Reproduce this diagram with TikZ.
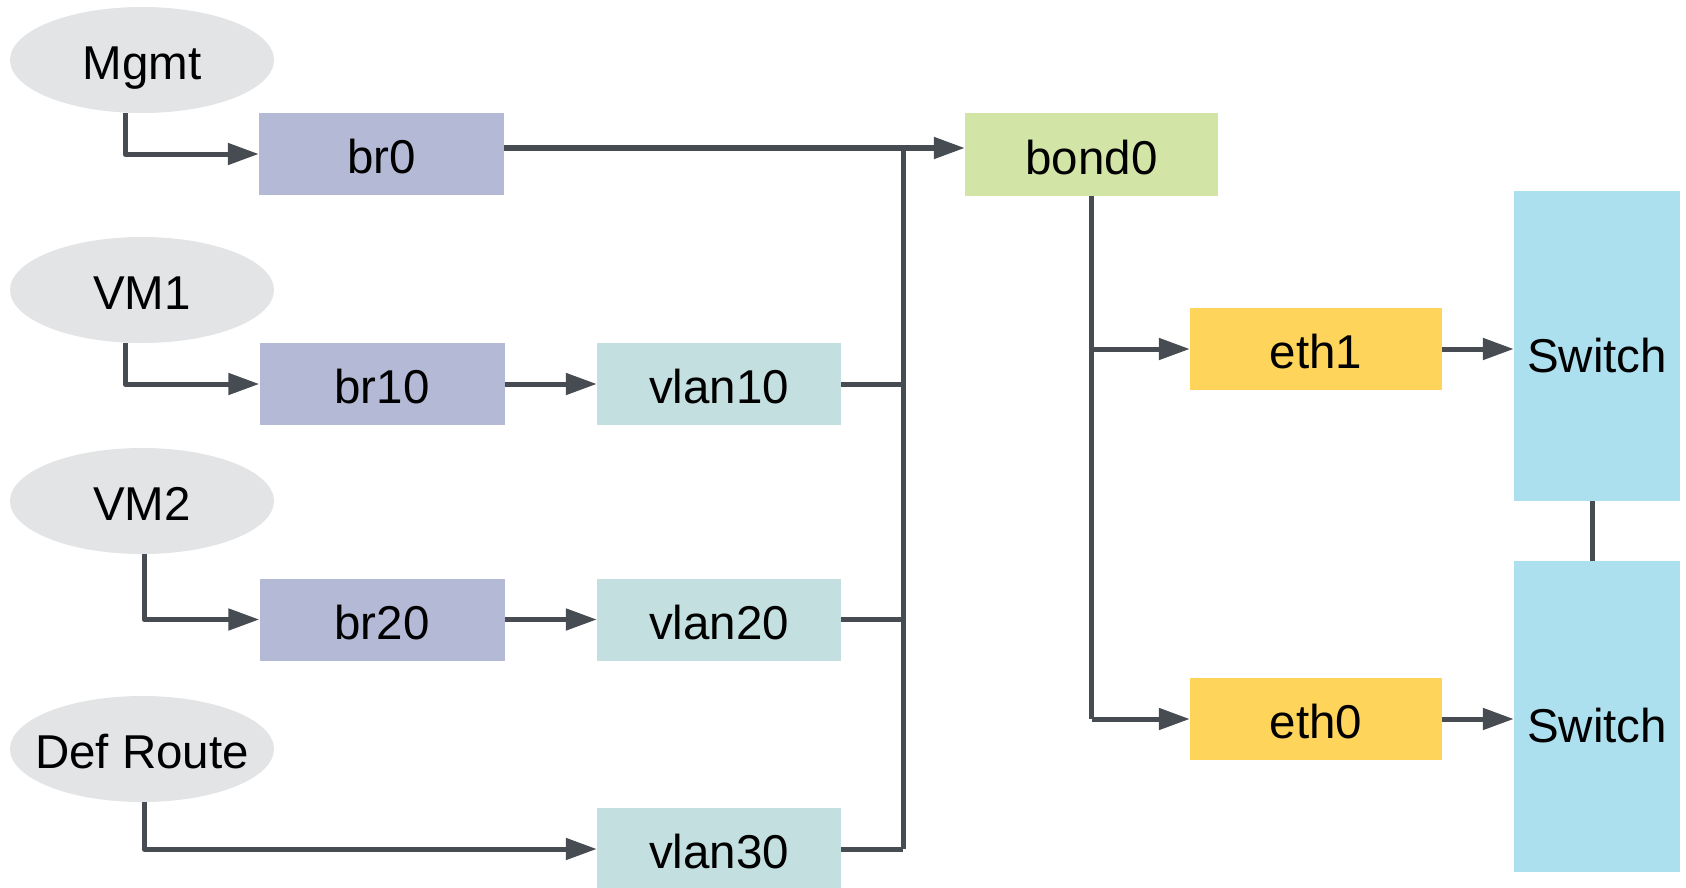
\documentclass[tikz,border=0pt]{standalone}
\usepackage{fontspec}
\setmainfont{Liberation Sans}
\usetikzlibrary{arrows.meta,shapes.geometric}
\definecolor{ellgray}{HTML}{E3E4E6}
\definecolor{brfill}{HTML}{B4BAD6}
\definecolor{vlanfill}{HTML}{C4DFE0}
\definecolor{bondfill}{HTML}{D2E4A6}
\definecolor{ethfill}{HTML}{FFD45A}
\definecolor{swfill}{HTML}{ADE0EE}
\definecolor{linecol}{HTML}{474C52}
\tikzset{
  lbl/.style={inner sep=0pt, text height=39pt, text depth=0pt, font=\fontsize{47.5pt}{54pt}\selectfont, text=black},
  oval/.style={ellipse, inner sep=0pt, fill=ellgray, minimum width=264pt, minimum height=106pt},
  brbox/.style={lbl, rectangle, fill=brfill, minimum width=245pt, minimum height=82pt},
  vlanbox/.style={lbl, rectangle, fill=vlanfill, minimum width=244pt, minimum height=82pt},
  bondbox/.style={lbl, rectangle, fill=bondfill, minimum width=253pt, minimum height=83pt},
  ethbox/.style={lbl, rectangle, fill=ethfill, minimum width=252pt, minimum height=82pt},
  swbox/.style={lbl, rectangle, fill=swfill, minimum width=166pt, minimum height=310pt, text height=52pt},
  wire/.style={draw=linecol, line width=5pt, line join=round},
  arr/.style={wire, -{Triangle[length=31pt,width=21pt]}}
}
\begin{document}
\begin{tikzpicture}[x=1pt,y=-1pt]
\useasboundingbox (0,0) rectangle (1686,888);
% ovals
\node[oval, label={[lbl]center:Mgmt}] (mgmt) at (142,60) {};
\node[oval, label={[lbl]center:VM1}] (vm1) at (142,290) {};
\node[oval, label={[lbl]center:VM2}] (vm2) at (142,501) {};
\node[oval, label={[lbl]center:Def Route}] (defr) at (142,749) {};
% bridges
\node[brbox] (br0) at (381.5,154) {br0};
\node[brbox] (br10) at (382,384) {br10};
\node[brbox] (br20) at (382,619.5) {br20};
% vlans
\node[vlanbox] (vlan10) at (719,384) {vlan10};
\node[vlanbox] (vlan20) at (719,619.5) {vlan20};
\node[vlanbox] (vlan30) at (719,849) {vlan30};
% bond
\node[bondbox] (bond0) at (1091.5,154.5) {bond0};
% eths
\node[ethbox] (eth1) at (1316,349) {eth1};
\node[ethbox] (eth0) at (1316,719) {eth0};
% switches
\node[swbox] (sw1) at (1597,346) {Switch};
\node[swbox, minimum height=311pt] (sw2) at (1597,716.5) {Switch};
% bus junction
\coordinate (j) at (903,148);
% connectors
\draw[arr] ([xshift=-17pt]mgmt.south) |- (br0.west);
\draw[arr] ([xshift=-17pt]vm1.south) |- (br10.west);
\draw[arr] ([xshift=2pt]vm2.south) |- (br20.west);
\draw[arr] ([xshift=2pt]defr.south) |- (vlan30.west);
\draw[arr] (br10.east) -- (vlan10.west);
\draw[arr] (br20.east) -- (vlan20.west);
\draw[arr] (br0.east |- j) -- (bond0.west |- j);
\draw[wire] (j) -- (j |- vlan30.east);
\draw[wire] (vlan10.east) -- (j |- vlan10.east);
\draw[wire] (vlan20.east) -- (j |- vlan20.east);
\draw[wire] (vlan30.east) -- (j |- vlan30.east);
\draw[wire] (bond0.south) -- (bond0.south |- eth0.west);
\draw[arr] (bond0.south |- eth1.west) -- (eth1.west);
\draw[arr] (bond0.south |- eth0.west) -- (eth0.west);
\draw[arr] (eth1.east) -- (sw1.west |- eth1.east);
\draw[arr] (eth0.east) -- (sw2.west |- eth0.east);
\draw[wire] ([xshift=-5pt]sw1.south) -- ([xshift=-5pt]sw2.north);
\end{tikzpicture}
\end{document}
